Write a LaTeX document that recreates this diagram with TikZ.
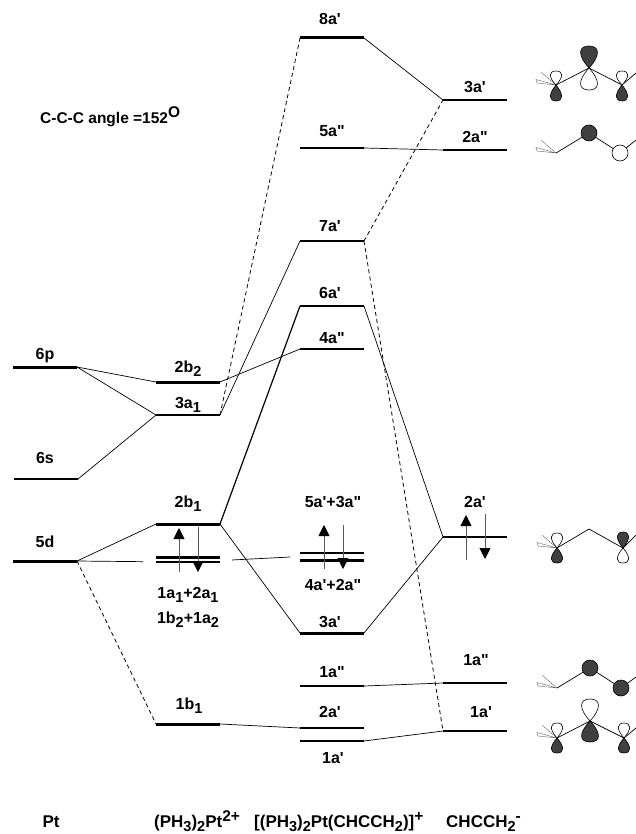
\documentclass[tikz,border=0pt]{standalone}
\usepackage{fontspec}
\usetikzlibrary{arrows.meta, positioning}
\newfontfamily\labfont{Liberation Sans}
\definecolor{ink}{HTML}{000000}
\definecolor{lobeA}{HTML}{404040}
\tikzset{
  lab/.style={font=\labfont\bfseries\fontsize{16}{18}\selectfont, text=ink, anchor=base, inner sep=0pt},
  biglab/.style={font=\labfont\bfseries\fontsize{15.5}{18}\selectfont, text=ink, anchor=base west, inner sep=0pt},
  footlab/.style={font=\labfont\bfseries\fontsize{17}{19}\selectfont, text=ink, anchor=base west, inner sep=0pt},
  level/.style={fill=ink, minimum width=64pt, minimum height=2.2pt, inner sep=0pt, outer sep=0pt},
  thicklevel/.style={level, minimum height=3pt},
  thinlevel/.style={level, minimum height=1.3pt},
  link/.style={line width=0.7pt, draw=ink},
  boldlink/.style={line width=1.2pt, draw=ink},
  dashlink/.style={line width=0.8pt, draw=ink, dash pattern=on 4pt off 3.2pt},
  spin/.style={-{Triangle[length=11pt,width=11pt,color=ink,fill=ink]}, line width=0.8pt, draw=black!65},
  bond/.style={line width=0.7pt, draw=ink}
}
\newcommand{\lsub}[1]{\raisebox{-4pt}{\fontsize{14.5}{14}\selectfont #1}}
\newcommand{\lsup}[1]{\raisebox{6pt}{\fontsize{15.5}{14}\selectfont #1}}
% one lobe: x, y, signed length, half width, fill
\newcommand{\lobe}[5]{\draw[line width=0.6pt, fill=#5] (#1,#2) .. controls ({#1-1.6*#4},{#2+0.6*#3}) and ({#1-1.4*#4},{#2+#3}) .. (#1,{#2+#3}) .. controls ({#1+1.4*#4},{#2+#3}) and ({#1+1.6*#4},{#2+0.6*#3}) .. (#1,#2) -- cycle;}
% the two ligands on the left carbon
\newcommand{\ligands}[2]{
  \draw[line width=0.5pt, draw=black!70, dash pattern=on 1.5pt off 0.7pt] (#1,#2) -- ({#1-15},{#2-13});
  \draw[line width=0.4pt, draw=black!60, fill=white] (#1,#2) -- ({#1-20},{#2-5.5}) -- ({#1-19},{#2-2}) -- cycle;
}

\begin{document}
\begin{tikzpicture}[x=1pt,y=-1pt]
\useasboundingbox (0,0) rectangle (636,834);

\node[biglab] (angle) at (40,124) {C-C-C angle =152\lsup{O}};

% Pt
\node[thicklevel] (p6) at (45,367) {};
\node[thinlevel] (s6) at (46,479) {};
\node[thicklevel] (d5) at (45,561) {};
\node[lab] (tp6) at (45,359) {6p};
\node[lab] (ts6) at (45,463) {6s};
\node[lab] (td5) at (45,547) {5d};

% (PH3)2Pt
\node[thicklevel] (b22) at (188,382) {};
\node[thinlevel] (a31) at (188,415) {};
\node[thicklevel] (b21) at (188,524) {};
\node[level] (a11) at (188,557.5) {};
\node[level] (a12) at (188,561.8) {};
\node[thicklevel] (b11) at (188,724) {};
\node[lab] (tb22) at (188,372) {2b\lsub{2}};
\node[lab] (ta31) at (188,408) {3a\lsub{1}};
\node[lab] (tb21) at (188,507) {2b\lsub{1}};
\node[lab] (ta11) at (188,598) {1a\lsub{1}+2a\lsub{1}};
\node[lab] (tb12) at (188,623) {1b\lsub{2}+1a\lsub{2}};
\node[lab] (tb11) at (189,709) {1b\lsub{1}};

% complex
\node[thicklevel] (c8a) at (332,38) {};
\node[level] (c5a) at (332,148) {};
\node[level] (c7a) at (332,241) {};
\node[level] (c6a) at (332,306) {};
\node[level] (c4a) at (332,349) {};
\node[thinlevel] (c53) at (332,553) {};
\node[thicklevel] (c42) at (332,560) {};
\node[thicklevel] (c3a) at (332,633) {};
\node[thinlevel] (c1b) at (332,686) {};
\node[level] (c2a) at (332,728) {};
\node[level] (c1a) at (332,741) {};
\node[lab] (tc8a) at (330,25) {8a'};
\node[lab] (tc5a) at (332,137) {5a"};
\node[lab] (tc7a) at (330,232) {7a'};
\node[lab] (tc6a) at (330,298) {6a'};
\node[lab] (tc4a) at (332,343) {4a"};
\node[lab] (tc53) at (333,507) {5a'+3a"};
\node[lab] (tc42) at (333,590) {4a'+2a"};
\node[lab] (tc3a) at (330,627) {3a'};
\node[lab] (tc1b) at (332,677) {1a"};
\node[lab] (tc2a) at (330,717) {2a'};
\node[lab] (tc1a) at (333,763) {1a'};

% CHCCH2
\node[level] (h3a) at (475,100) {};
\node[level] (h2b) at (475,150) {};
\node[level] (h2a) at (475,537) {};
\node[level] (h1b) at (475,683) {};
\node[level] (h1a) at (475,731) {};
\node[lab] (th3a) at (475,93) {3a'};
\node[lab] (th2b) at (475,143) {2a"};
\node[lab] (th2a) at (475,507) {2a'};
\node[lab] (th1b) at (476,665) {1a"};
\node[lab] (th1a) at (481,717) {1a'};

% column titles
\node[footlab, anchor=base] (tpt) at (51,827) {Pt};
\node[footlab] (tfrag) at (154,827) {(PH\lsub{3})\lsub{2}Pt\lsup{2+}};
\node[footlab] (tcomp) at (254,827) {[(PH\lsub{3})\lsub{2}Pt(CHCCH\lsub{2})]\lsup{+}};
\node[footlab] (tlig) at (446,827) {CHCCH\lsub{2}\lsup{-}};

% correlation lines
\draw[link] (p6.east) -- (b22.west);
\draw[link] (p6.east) -- (a31.west);
\draw[link] (s6.east) -- (a31.west);
\draw[link] (d5.east) -- (b21.west);
\draw[link, shorten >=13pt] (d5.east) -- (a12.west);
\draw[dashlink] (d5.east) -- (b11.west);
\draw[link] (b22.east) -- (c4a.west);
\draw[dashlink] (a31.east) -- (c8a.west);
\draw[link] (a31.east) -- (c7a.west);
\draw[boldlink] (b21.east) -- (c6a.west);
\draw[link] (b21.east) -- (c3a.west);
\coordinate (dblR) at (220,560.6);
\coordinate (cplL) at (300,556.5);
\draw[link, shorten <=12pt, shorten >=10pt] (dblR) -- (cplL);
\draw[link] (b11.east) -- (c2a.west);
\draw[link] (c8a.east) -- (h3a.west);
\draw[link] (c5a.east) -- (h2b.west);
\draw[dashlink] (c7a.east) -- (h3a.west);
\draw[dashlink] (c7a.east) -- (h1a.west);
\draw[link] (c6a.east) -- (h2a.west);
\draw[link] (c3a.east) -- (h2a.west);
\draw[link] (c1b.east) -- (h1b.west);
\draw[link] (c1a.east) -- (h1a.west);

% electrons
\foreach \spname/\spx/\spa/\spb in {ua/179/572/528, da/198/527/572, ub/324/569/525, db/343/525/569, uc/466/560/515, dc/485/514/559}{
  \coordinate (\spname0) at (\spx,\spa);
  \coordinate (\spname1) at (\spx,\spb);
  \draw[spin] (\spname0) -- (\spname1);
}

% orbitals 3a'
\ligands{556}{85}
\draw[bond] (556,85) -- (589,68) -- (622,85) -- (636,73);
\lobe{556}{85}{-14}{5}{white}
\lobe{556}{85}{16}{5}{lobeA}
\lobe{589}{68}{-22}{7.5}{lobeA}
\lobe{589}{68}{22}{7.5}{white}
\lobe{622}{85}{-14}{5}{white}
\lobe{622}{85}{16}{5}{lobeA}
% orbitals 2a"
\ligands{556}{153}
\draw[bond] (556,153) -- (589,133) -- (620,153) -- (636,140);
\draw[line width=0.6pt, fill=lobeA] (589,133) circle[radius=8];
\draw[line width=0.6pt, fill=white] (620,153) circle[radius=8];
% orbitals 2a'
\ligands{557}{548}
\draw[bond] (557,548) -- (589,529) -- (623,548) -- (636,535);
\lobe{557}{548}{-15}{5}{white}
\lobe{557}{548}{15}{5}{lobeA}
\lobe{623}{548}{-16}{5}{lobeA}
\lobe{623}{548}{15}{5}{white}
% orbitals 1a"
\ligands{557}{688}
\draw[bond] (557,688) -- (590,668) -- (621,688) -- (636,677);
\draw[line width=0.6pt, fill=lobeA] (590,668) circle[radius=8];
\draw[line width=0.6pt, fill=lobeA] (621,688) circle[radius=8];
% orbitals 1a'
\ligands{557}{738}
\draw[bond] (557,738) -- (590,721) -- (624,738) -- (636,728);
\lobe{557}{738}{-15}{5}{white}
\lobe{557}{738}{15}{5}{lobeA}
\lobe{590}{721}{-22}{7.5}{white}
\lobe{590}{721}{21}{7.5}{lobeA}
\lobe{624}{738}{-15}{5}{white}
\lobe{624}{738}{15}{5}{lobeA}

\end{tikzpicture}
\end{document}
